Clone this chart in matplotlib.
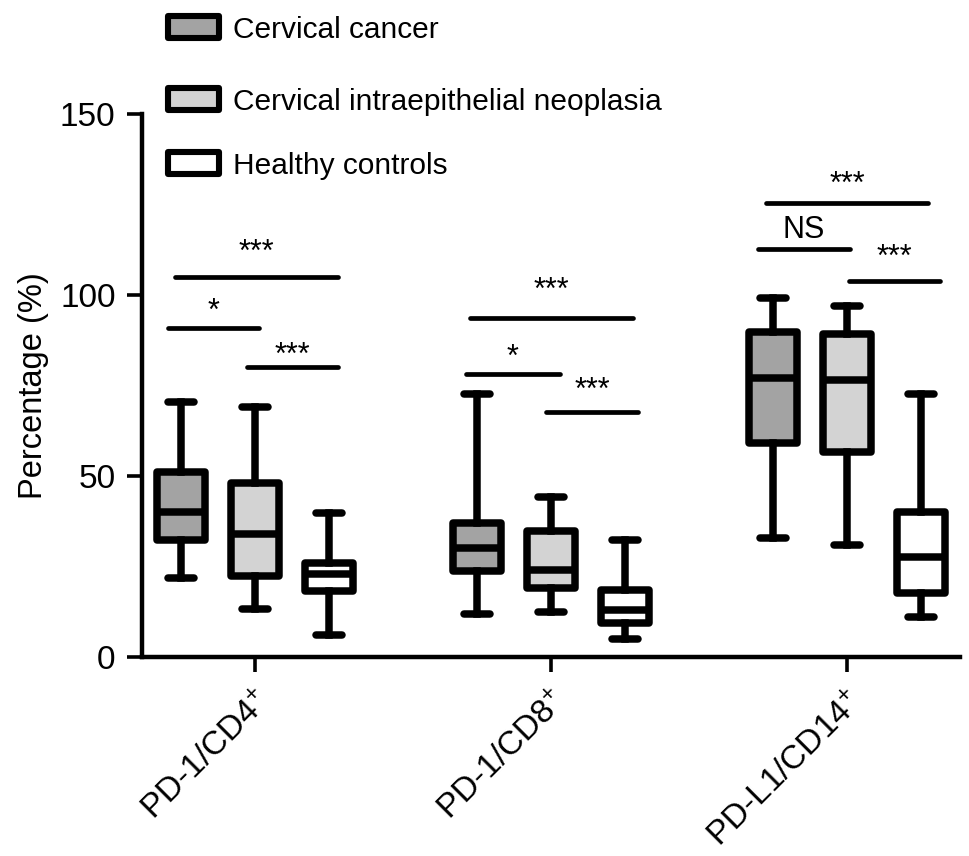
import matplotlib
matplotlib.use('Agg')
import matplotlib.pyplot as plt
from matplotlib.patches import Rectangle

plt.rcParams['font.family'] = ['Liberation Sans', 'DejaVu Sans']
plt.rcParams['mathtext.default'] = 'regular'

# ---------------- data ----------------
markers = ['PD-1/CD4$^{+}$', 'PD-1/CD8$^{+}$', 'PD-L1/CD14$^{+}$']
series = ['Cervical cancer', 'Cervical intraepithelial neoplasia', 'Healthy controls']
series_colors = ['#a3a3a3', '#d3d3d3', '#ffffff']

# each row: [whisker low, Q1, median, Q3, whisker high] per marker
cc_stats = [[21.9, 32.3, 40.0, 51.1, 70.5],
            [11.8, 23.8, 30.0, 37.0, 72.6],
            [33.0, 59.0, 77.0, 89.8, 99.2]]
cin_stats = [[13.3, 22.4, 34.0, 48.0, 69.0],
             [12.5, 19.0, 24.0, 34.8, 44.3],
             [31.0, 56.7, 76.5, 89.2, 97.0]]
hc_stats = [[6.0, 18.2, 22.8, 26.0, 39.7],
            [5.0, 9.3, 13.0, 18.5, 32.3],
            [11.0, 17.6, 27.5, 40.0, 72.6]]
all_stats = [cc_stats, cin_stats, hc_stats]

# significance bars
sig_x1 = [0.73, 0.705, 0.973, 1.725, 1.712, 1.983, 2.725, 2.70, 3.007]
sig_x2 = [1.28, 1.014, 1.281, 2.278, 2.030, 2.295, 3.275, 3.01, 3.315]
sig_y = [105.0, 91.0, 80.0, 93.6, 78.2, 67.7, 125.4, 112.7, 103.9]
sig_text = ['***', '*', '***', '***', '*', '***', '***', 'NS', '***']
sig_text_y = [109.5, 93.1, 81.1, 99.0, 80.4, 71.4, 128.1, 115.8, 108.1]

yticks = [0, 50, 100, 150]

# ---------------- figure ----------------
W, H = 970, 856
fig = plt.figure(figsize=(W / 100, H / 100), dpi=100)
ax_l, ax_r, ax_t, ax_b = 142, 960, 114, 657
ax = fig.add_axes([ax_l / W, (H - ax_b) / H, (ax_r - ax_l) / W, (ax_b - ax_t) / H])

LW = 5.4
offsets = [-0.25, 0.0, 0.25]
for si, stats in enumerate(all_stats):
    bstats = []
    for row in stats:
        bstats.append(dict(whislo=row[0], q1=row[1], med=row[2], q3=row[3], whishi=row[4], fliers=[]))
    pos = [i + 1 + offsets[si] for i in range(len(stats))]
    ax.bxp(bstats, positions=pos, widths=0.164, capwidths=0.088,
           patch_artist=True, showfliers=False,
           boxprops=dict(facecolor=series_colors[si], edgecolor='black', linewidth=LW, joinstyle='round'),
           medianprops=dict(color='black', linewidth=LW, solid_capstyle='butt'),
           whiskerprops=dict(color='black', linewidth=LW),
           capprops=dict(color='black', linewidth=LW, solid_capstyle='round'),
           manage_ticks=False)

for x1, x2, y, t, ty in zip(sig_x1, sig_x2, sig_y, sig_text, sig_text_y):
    ax.plot([x1, x2], [y, y], color='black', lw=3.4, solid_capstyle='round', clip_on=False)
    ax.text((x1 + x2) / 2, ty, t, ha='center', va='baseline', fontsize=22)

ax.set_xlim(0.618, 3.382)
ax.set_ylim(0, 150)
ax.set_yticks(yticks)
ax.set_xticks([1, 2, 3])
ax.set_xticklabels(markers, rotation=45, ha='right', rotation_mode='anchor')
ax.set_ylabel('Percentage (%)', fontsize=23.5, labelpad=8)

for s in ['top', 'right']:
    ax.spines[s].set_visible(False)
for s in ['left', 'bottom']:
    ax.spines[s].set_linewidth(3.2)
ax.tick_params(axis='both', width=2.6, length=11, labelsize=24, pad=8, direction='out')
ax.tick_params(axis='x', pad=10)

# ---------------- legend ----------------
def fx(px):
    return px / W

def fy(py):
    return (H - py) / H

leg_centers = [27, 98.5, 163]
for c, lab, yc in zip(series_colors, series, leg_centers):
    rx0, rx1 = 168, 219
    ry0, ry1 = yc - 11, yc + 11
    fig.add_artist(Rectangle((fx(rx0), fy(ry1)), fx(rx1) - fx(rx0), fy(ry0) - fy(ry1),
                             transform=fig.transFigure, facecolor=c, edgecolor='black',
                             linewidth=4.4, joinstyle='round'))
    fig.text(fx(233), fy(yc + 11), lab, ha='left', va='baseline', fontsize=21.5)

fig.savefig('out.png', dpi=100)
